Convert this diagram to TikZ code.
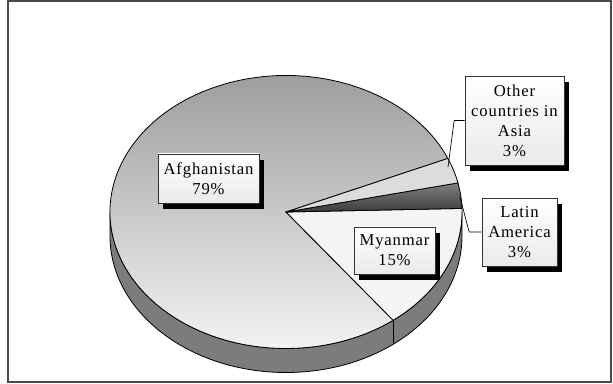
\documentclass[tikz,border=0pt]{standalone}
\usepackage{fontspec}
\setmainfont{Liberation Serif}[LetterSpace=5]
\usetikzlibrary{shadows}
\definecolor{framec}{HTML}{4A4A4A}
\definecolor{sidec}{HTML}{7C7C7C}
\definecolor{afgtop}{HTML}{989898}
\definecolor{afgbot}{HTML}{F4F4F4}
\definecolor{myac}{HTML}{F4F4F4}
\definecolor{lattop}{HTML}{808080}
\definecolor{latbot}{HTML}{3C3C3C}
\definecolor{othc}{HTML}{DCDCDC}
\definecolor{boxbot}{HTML}{EAEAEA}
\begin{document}
\begin{tikzpicture}[x=0.75pt,y=0.75pt,
  edge/.style={draw=black,line width=0.6pt},
  labelbox/.style={draw=black!80,line width=0.5pt,top color=white,bottom color=boxbot,
    inner sep=0pt,align=center,font=\fontsize{12.5pt}{15pt}\selectfont,
    drop shadow={shadow xshift=3.75pt,shadow yshift=-4.5pt,fill=black,opacity=1}},
  leader/.style={draw=black,line width=0.5pt}]
\useasboundingbox (0,0) rectangle (613,384);
\fill[white] (0,0) rectangle (613,384);
\draw[framec,line width=1.5pt] (7.5,383) rectangle (611,2);
% geometry
\def\cx{286}\def\cy{172}\def\rx{176}\def\ry{136.5}\def\dp{24}
% side of the pie
\filldraw[fill=sidec,edge] (\cx-\rx,\cy) arc[start angle=180,end angle=360,x radius=\rx,y radius=\ry]
  -- ++(0,-\dp) arc[start angle=360,end angle=180,x radius=\rx,y radius=\ry] -- cycle;
\draw[edge] ({\cx+\rx*cos(-52.5)},{\cy+\ry*sin(-52.5)}) -- ++(0,-\dp);
% top slices
\path[edge,top color=afgtop,bottom color=afgbot] (\cx,\cy) -- ({\cx+\rx*cos(23.1)},{\cy+\ry*sin(23.1)})
  arc[start angle=23.1,end angle=307.5,x radius=\rx,y radius=\ry] -- cycle;
\filldraw[fill=myac,edge] (\cx,\cy) -- ({\cx+\rx*cos(-52.5)},{\cy+\ry*sin(-52.5)})
  arc[start angle=-52.5,end angle=1.5,x radius=\rx,y radius=\ry] -- cycle;
\path[edge,top color=lattop,bottom color=latbot] (\cx,\cy) -- ({\cx+\rx*cos(1.5)},{\cy+\ry*sin(1.5)})
  arc[start angle=1.5,end angle=12.3,x radius=\rx,y radius=\ry] -- cycle;
\filldraw[fill=othc,edge] (\cx,\cy) -- ({\cx+\rx*cos(12.3)},{\cy+\ry*sin(12.3)})
  arc[start angle=12.3,end angle=23.1,x radius=\rx,y radius=\ry] -- cycle;
% labels
\node[labelbox,minimum width=75.75pt,minimum height=36.75pt] (afg) at (208.5,205.5) {Afghanistan\\79\%};
\node[labelbox,minimum width=60.75pt,minimum height=35.25pt] (mya) at (394.5,133.5) {Myanmar\\15\%};
\node[labelbox,minimum width=74.25pt,minimum height=66.75pt] (oth) at (514.5,263.5) {Other\\countries in\\Asia\\3\%};
\node[labelbox,minimum width=56.25pt,minimum height=51pt] (lat) at (519.5,152) {Latin\\America\\3\%};
% leaders
\coordinate (othend) at (448,217);
\coordinate (latend) at (460,187);
\draw[leader] (oth.west) -- ++(-10.5,0) -- (othend);
\draw[leader] (lat.west) -- ++(-12.5,0) -- (latend);
\end{tikzpicture}
\end{document}
